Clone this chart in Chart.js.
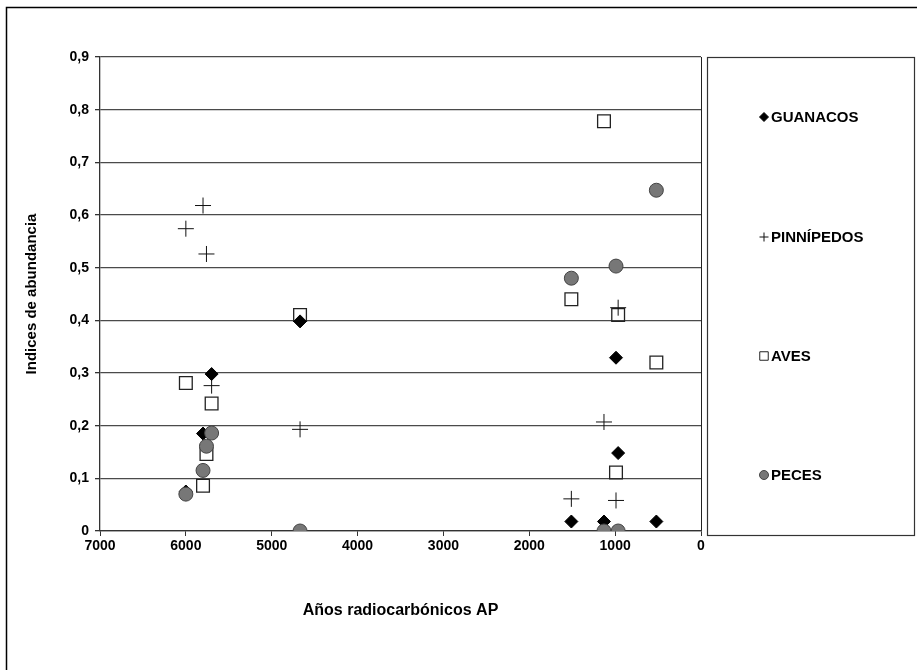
<!DOCTYPE html>
<html>
<head>
<meta charset="utf-8">
<script src="https://cdn.jsdelivr.net/npm/chart.js@4/dist/chart.umd.min.js"></script>
<style>
  body { margin: 0; background: #fff; }
  canvas { display: block; }
</style>
</head>
<body>
<canvas id="chart" width="917" height="670"></canvas>
<script>
// series names
const seriesNames = ['GUANACOS', 'PINNÍPEDOS', 'AVES', 'PECES'];

// years BP (x) and abundance index (y) per series
const guanacosYears = [6000, 5800, 5700, 4670, 1510, 1130, 990, 965, 520];
const guanacosIdx = [0.075, 0.185, 0.298, 0.398, 0.018, 0.018, 0.329, 0.148, 0.018];

const pinnipedosYears = [6000, 5800, 5760, 5700, 4670, 1510, 1130, 990, 965];
const pinnipedosIdx = [0.574, 0.618, 0.526, 0.276, 0.193, 0.061, 0.207, 0.058, 0.424];

const avesYears = [6000, 5800, 5760, 5700, 4670, 1510, 1130, 990, 965, 520];
const avesIdx = [0.281, 0.086, 0.146, 0.242, 0.41, 0.44, 0.778, 0.111, 0.41, 0.32];

const pecesYears = [6000, 5800, 5760, 5700, 4670, 1510, 1130, 990, 965, 520];
const pecesIdx = [0.07, 0.115, 0.161, 0.186, 0, 0.48, 0, 0.503, 0, 0.647];

const yTicks = [0, 0.1, 0.2, 0.3, 0.4, 0.5, 0.6, 0.7, 0.8, 0.9];

function toPoints(xs, ys) {
  return xs.map((x, i) => ({ x: x, y: ys[i] }));
}

const FONT = '"Liberation Sans", Arial, sans-serif';

// frame around the whole figure + legend box on the right
const framePlugin = {
  id: 'frame',
  afterDraw(chart) {
    const ctx = chart.ctx;
    ctx.save();
    ctx.strokeStyle = '#000';
    ctx.lineWidth = 1.5;
    ctx.beginPath();
    ctx.moveTo(6.5, 670);
    ctx.lineTo(6.5, 7.5);
    ctx.lineTo(917, 7.5);
    ctx.stroke();

    ctx.lineWidth = 1.2;
    ctx.strokeStyle = '#333';
    ctx.strokeRect(707.5, 57.5, 207, 478);

    const rows = [117, 237, 356, 475];
    ctx.font = 'bold 15px ' + FONT;
    ctx.textBaseline = 'middle';
    ctx.textAlign = 'left';
    chart.data.datasets.forEach((ds, i) => {
      const y = rows[i];
      ctx.fillStyle = ds.backgroundColor === 'transparent' ? '#fff' : ds.backgroundColor;
      ctx.strokeStyle = ds.borderColor;
      ctx.lineWidth = 1;
      Chart.helpers.drawPoint(ctx, {
        pointStyle: ds.pointStyle,
        radius: ds.pointStyle === 'rect' ? 6 : 4.5,
        rotation: 0,
        borderWidth: 1
      }, 764, y);
      ctx.fillStyle = '#000';
      ctx.fillText(ds.label, 771, y + 1);
    });
    ctx.restore();
  }
};

new Chart(document.getElementById('chart'), {
  type: 'scatter',
  data: {
    datasets: [
      {
        label: seriesNames[0],
        data: toPoints(guanacosYears, guanacosIdx),
        pointStyle: 'rectRot',
        pointRadius: 6.5,
        backgroundColor: '#000',
        borderColor: '#000',
        borderWidth: 1,
        order: 1,
      },
      {
        label: seriesNames[1],
        data: toPoints(pinnipedosYears, pinnipedosIdx),
        pointStyle: 'cross',
        pointRadius: 8,
        backgroundColor: '#000',
        borderColor: '#111',
        borderWidth: 1,
        order: 2,
      },
      {
        label: seriesNames[2],
        data: toPoints(avesYears, avesIdx),
        pointStyle: 'rect',
        pointRadius: 9,
        backgroundColor: 'transparent',
        borderColor: '#222',
        borderWidth: 1.3,
        order: 3,
      },
      {
        label: seriesNames[3],
        data: toPoints(pecesYears, pecesIdx),
        pointStyle: 'circle',
        pointRadius: 7,
        backgroundColor: '#777',
        borderColor: '#444',
        borderWidth: 1,
        order: 0,
      },
    ],
  },
  options: {
    responsive: false,
    animation: false,
    layout: {
      padding: { left: 20, top: 57, right: 216, bottom: 50 },
    },
    plugins: {
      legend: { display: false },
      tooltip: { enabled: false },
    },
    scales: {
      x: {
        type: 'linear',
        reverse: true, // años AP: 7000 a la izquierda
        min: 0,
        max: 7000,
        afterFit: (s) => { s.height = 89; },
        ticks: {
          stepSize: 1000,
          color: '#000',
          font: { family: FONT, size: 14, weight: 'bold' },
          maxRotation: 0,
          padding: 2,
          callback: (v) => String(v),
        },
        grid: {
          drawOnChartArea: true,
          color: (c) => (c.tick && c.tick.value === 0 ? '#222' : 'rgba(0,0,0,0)'),
          tickColor: '#333',
          tickLength: 5,
        },
        border: { color: '#333', width: 1.3 },
        title: {
          display: true,
          text: 'Años radiocarbónicos AP',
          color: '#000',
          font: { family: FONT, size: 16, weight: 'bold' },
          padding: { top: 0, bottom: 0 },
        },
      },
      y: {
        min: 0,
        max: 0.9,
        afterFit: (s) => { s.width = 80; },
        afterBuildTicks: (s) => { s.ticks = yTicks.map((v) => ({ value: v })); },
        ticks: {
          color: '#000',
          font: { family: FONT, size: 14, weight: 'bold' },
          padding: 6,
          callback: (v) => (v === 0 ? '0' : v.toFixed(1).replace('.', ',')),
        },
        grid: {
          color: '#4a4a4a',
          lineWidth: 1.3,
          tickColor: '#333',
          tickLength: 5,
        },
        border: { color: '#333', width: 1.3 },
        title: {
          display: true,
          text: 'Indices de abundancia',
          color: '#000',
          font: { family: FONT, size: 15, weight: 'bold' },
          padding: { top: 3, bottom: 0 },
        },
      },
    },
  },
  plugins: [framePlugin],
});
</script>
</body>
</html>
